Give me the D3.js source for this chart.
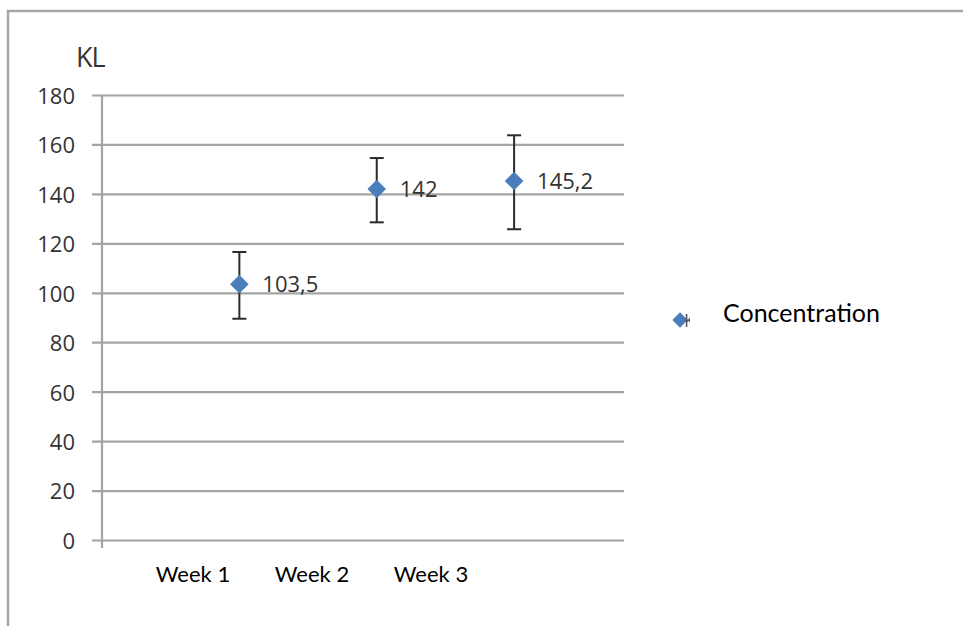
<!DOCTYPE html>
<html>
<head>
<meta charset="utf-8">
<script src="https://cdn.jsdelivr.net/npm/d3@7/dist/d3.min.js"></script>
<style>
  html, body { margin: 0; padding: 0; background: #ffffff; }
  svg { display: block; }
</style>
</head>
<body>
<div id="chart"></div>
<script>
// ---- data ----
const categories = ["Week 1", "Week 2", "Week 3"];
const xValues = [1, 2, 3];
const concentration = [103.5, 142, 145.2];
const errPlus = [13, 12.5, 18.5];
const errMinus = [14, 13.5, 19.5];
const dataLabels = ["103,5", "142", "145,2"];
const yTicks = [0, 20, 40, 60, 80, 100, 120, 140, 160, 180];
const yAxisTitle = "KL";
const seriesName = "Concentration";

// ---- layout ----
const W = 963, H = 626;
const svg = d3.select("#chart").append("svg").attr("width", W).attr("height", H);

svg.append("rect").attr("width", W).attr("height", H).attr("fill", "#ffffff");

// outer frame (top and left edges visible)
svg.append("path")
  .attr("d", `M8,${H + 2} L8,11 L${W + 2},11`)
  .attr("fill", "none").attr("stroke", "#a6a6a6").attr("stroke-width", 2.5);

const x = d3.scaleLinear().domain([0, 3.8]).range([102, 624]);
const y = d3.scaleLinear().domain([0, 180]).range([540, 95]);

// gridlines + tick marks
const yAxis = d3.axisLeft(y).tickValues(yTicks).tickSize(-(624 - 92)).tickPadding(0).tickFormat(d3.format("d"));
const gAxis = svg.append("g").attr("transform", "translate(92,0)").call(yAxis);
gAxis.select(".domain").remove();
gAxis.selectAll(".tick line").attr("stroke", "#a4a4a4").attr("stroke-width", 2.2).attr("x2", 624 - 92);
gAxis.selectAll(".tick text")
  .attr("x", -17)
  .attr("dy", "0.38em")
  .attr("text-anchor", "end")
  .attr("font-family", "'Open Sans', sans-serif")
  .attr("font-size", 22)
  .attr("font-weight", 500)
  .attr("fill", "#333333");

// vertical axis line
svg.append("line")
  .attr("x1", x(0)).attr("x2", x(0))
  .attr("y1", y(180)).attr("y2", y(0) + 8)
  .attr("stroke", "#a4a4a4").attr("stroke-width", 2.2);

// axis title
svg.append("text")
  .attr("x", 76).attr("y", 67)
  .attr("font-family", "'Open Sans', sans-serif")
  .attr("font-size", 27)
  .attr("font-weight", 500)
  .attr("letter-spacing", "-1")
  .attr("fill", "#333333")
  .text(yAxisTitle);

// overlaid category labels
const xl = d3.scalePoint().domain(categories).range([193, 431]);
svg.append("g").selectAll("text").data(categories).join("text")
  .attr("x", d => xl(d)).attr("y", 582)
  .attr("text-anchor", "middle")
  .attr("font-family", "Lato, 'Open Sans', sans-serif")
  .attr("font-size", 22)
  .attr("fill", "#000")
  .text(d => d);

// error bars
const pts = xValues.map((v, i) => ({ x: v, y: concentration[i], hi: concentration[i] + errPlus[i], lo: concentration[i] - errMinus[i], label: dataLabels[i] }));
const eb = svg.append("g").attr("stroke", "#2b2b2b").attr("stroke-width", 2);
pts.forEach(p => {
  eb.append("line").attr("x1", x(p.x)).attr("x2", x(p.x)).attr("y1", y(p.hi)).attr("y2", y(p.lo));
  eb.append("line").attr("x1", x(p.x) - 7).attr("x2", x(p.x) + 7).attr("y1", y(p.hi)).attr("y2", y(p.hi));
  eb.append("line").attr("x1", x(p.x) - 7).attr("x2", x(p.x) + 7).attr("y1", y(p.lo)).attr("y2", y(p.lo));
});

// markers
const diamond = d3.symbol().type(d3.symbolDiamond2).size(220);
svg.append("g").selectAll("path").data(pts).join("path")
  .attr("transform", d => `translate(${x(d.x)},${y(d.y)})`)
  .attr("d", diamond)
  .attr("fill", "#4a7ebb");

// data labels
svg.append("g").selectAll("text").data(pts).join("text")
  .attr("x", d => x(d.x) + 23).attr("y", d => y(d.y))
  .attr("dy", "0.38em")
  .attr("font-family", "'Open Sans', sans-serif")
  .attr("font-size", 22)
  .attr("font-weight", 500)
  .attr("fill", "#333333")
  .text(d => d.label);

// legend
const lg = svg.append("g");
lg.append("path").attr("transform", "translate(680,320)").attr("d", d3.symbol().type(d3.symbolDiamond2).size(150)).attr("fill", "#4a7ebb");
lg.append("text").attr("x", 684).attr("y", 327)
  .attr("font-family", "'Open Sans', sans-serif").attr("font-size", 18).attr("fill", "#555")
  .text(yAxisTitle);
lg.append("rect").attr("x", 690).attr("y", 283).attr("width", 255).attr("height", 74).attr("fill", "#ffffff");
lg.append("text").attr("x", 723).attr("y", 322)
  .attr("font-family", "Lato, 'Open Sans', sans-serif")
  .attr("font-size", 25)
  .attr("fill", "#000")
  .text(seriesName);
</script>
</body>
</html>
